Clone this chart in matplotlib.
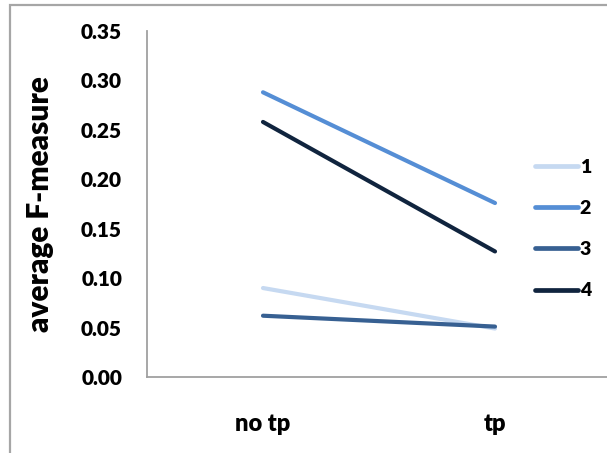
import matplotlib
matplotlib.use("Agg")
import matplotlib.pyplot as plt
from matplotlib import font_manager
from matplotlib.patches import Rectangle
from matplotlib.lines import Line2D

categories = ["no tp", "tp"]
series_names = ["1", "2", "3", "4"]
series_1 = [0.090, 0.049]
series_2 = [0.288, 0.176]
series_3 = [0.062, 0.051]
series_4 = [0.258, 0.127]
y_ticks = [0.00, 0.05, 0.10, 0.15, 0.20, 0.25, 0.30, 0.35]

colors = ["#c6d9f1", "#558ed5", "#376092", "#10243e"]

# pick a sans family that actually ships a bold face
bold_families = {f.name for f in font_manager.fontManager.ttflist
                 if isinstance(f.weight, int) and f.weight >= 700
                 or f.weight in ("bold", "heavy", "black", "extra bold")}
family = next((n for n in ["Lato", "Open Sans", "Noto Sans", "Liberation Sans"]
               if n in bold_families), "DejaVu Sans")

plt.rcParams["font.family"] = [family, "DejaVu Sans"]
plt.rcParams["font.weight"] = "bold"

W, H = 607, 453
fig = plt.figure(figsize=(W / 100, H / 100), dpi=100)

# chart frame
fig.patches.append(Rectangle((10 / W, -0.1), 1.2, 1 - 5 / H + 0.1,
                             transform=fig.transFigure, fill=False,
                             edgecolor="#a6a6a6", lw=1.6))

left, right, top, bottom = 147, 611, 31, 377
ax = fig.add_axes([left / W, 1 - bottom / H, (right - left) / W, (bottom - top) / H])
ax.set_facecolor("none")

x = list(range(len(categories)))
all_series = [series_1, series_2, series_3, series_4]
for vals, col in zip(all_series, colors):
    ax.plot(x, vals, color=col, lw=3.0, solid_capstyle="round")

ax.set_xlim(-0.5, 1.5)
ax.set_ylim(0, 0.35)
ax.set_yticks(y_ticks)
ax.set_yticklabels([f"{v:.2f}" for v in y_ticks])
ax.set_xticks(x)
ax.set_xticklabels(categories)
ax.tick_params(axis="y", length=0, pad=18, labelsize=15)
ax.tick_params(axis="x", length=0, pad=26, labelsize=17)
for lab in ax.get_xticklabels() + ax.get_yticklabels():
    lab.set_fontweight("heavy")

for s in ["top", "right"]:
    ax.spines[s].set_visible(False)
for s in ["left", "bottom"]:
    ax.spines[s].set_color("#a0a0a0")
    ax.spines[s].set_linewidth(1.3)

ax.set_ylabel("average F-measure", fontsize=21.5, fontweight="heavy", labelpad=19)

handles = [Line2D([0], [0], color=c, lw=3.4, solid_capstyle="round") for c in colors]
fig.legend(handles, series_names, loc="center left",
           bbox_to_anchor=(535 / W, 1 - 229 / H), frameon=False,
           handlelength=2.2, handletextpad=0.1,
           labelspacing=1.25, borderpad=0, borderaxespad=0,
           prop={"weight": "heavy", "size": 14})

fig.savefig("out.png", dpi=100)
